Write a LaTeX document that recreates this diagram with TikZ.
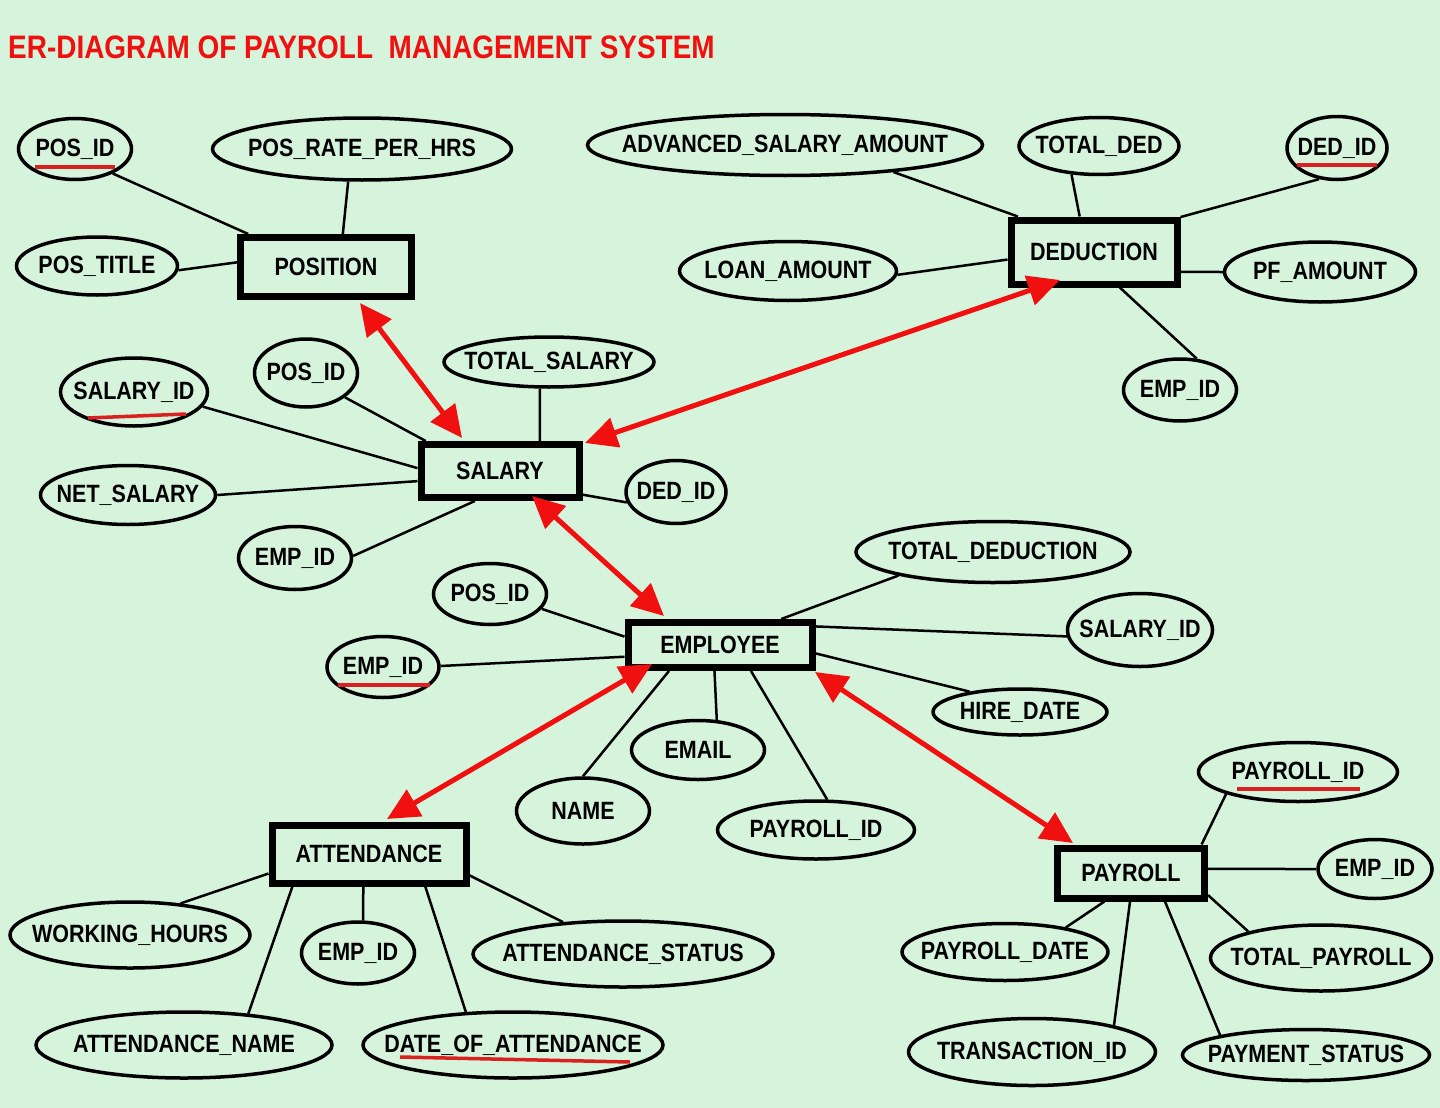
\documentclass[tikz,border=0pt]{standalone}
\usepackage{fontspec}
\setmainfont{Liberation Sans}[FakeStretch=0.86]
\usetikzlibrary{shapes.geometric,arrows.meta,calc}
\definecolor{bg}{RGB}{214,243,220}
\definecolor{relred}{RGB}{240,16,16}
\definecolor{ulred}{RGB}{218,32,32}
\newcommand\lab[1]{\makebox[0pt][c]{#1}}
\begin{document}
\begin{tikzpicture}[x=1pt,y=-1pt,
  lbl/.style={font=\fontsize{25}{25}\selectfont\bfseries},
  entity/.style={lbl,draw=black,line width=7pt,rectangle,inner sep=0pt},
  attr/.style={lbl,draw=black,line width=3.5pt,ellipse,inner sep=0pt},
  link/.style={draw=black,line width=2.5pt},
  rel/.style={draw=relred,line width=5pt,{Triangle[length=32pt,width=30pt]}-{Triangle[length=32pt,width=30pt]}},
  uline/.style={draw=ulred,line width=3.5pt}
]
\fill[bg] (0,0) rectangle (1440,1108);
\useasboundingbox (0,0) rectangle (1440,1108);

\node[anchor=west,inner sep=0pt,text=relred,font=\fontsize{32.5}{33}\selectfont\bfseries] (title) at (8,47) {ER-DIAGRAM OF PAYROLL\ \ MANAGEMENT SYSTEM};

% entities
\node[entity,minimum width=171pt,minimum height=59pt] (position) at (326,267) {POSITION};
\node[entity,minimum width=166pt,minimum height=64pt] (deduction) at (1094,252) {DEDUCTION};
\node[entity,minimum width=158pt,minimum height=53pt] (salary) at (500,471) {SALARY};
\node[entity,minimum width=184pt,minimum height=45pt] (employee) at (720,645) {EMPLOYEE};
\node[entity,minimum width=194pt,minimum height=58pt] (attendance) at (369,854) {ATTENDANCE};
\node[entity,minimum width=147pt,minimum height=50pt] (payroll) at (1131,873) {PAYROLL};

% POSITION attributes
\node[attr,minimum width=113pt,minimum height=61pt] (p1) at (75,149) {\lab{POS\_ID}};
\node[attr,minimum width=299pt,minimum height=62pt] (p2) at (362,149) {\lab{POS\_RATE\_PER\_HRS}};
\node[attr,minimum width=161pt,minimum height=58pt] (p3) at (97,266) {\lab{POS\_TITLE}};

% DEDUCTION attributes
\node[attr,minimum width=395pt,minimum height=61pt] (d1) at (785,145) {\lab{ADVANCED\_SALARY\_AMOUNT}};
\node[attr,minimum width=160pt,minimum height=57pt] (d2) at (1099,146) {\lab{TOTAL\_DED}};
\node[attr,minimum width=100pt,minimum height=63pt] (d3) at (1337,148) {\lab{DED\_ID}};
\node[attr,minimum width=217pt,minimum height=59pt] (d4) at (788,271) {\lab{LOAN\_AMOUNT}};
\node[attr,minimum width=191pt,minimum height=60pt] (d5) at (1320,272) {\lab{PF\_AMOUNT}};
\node[attr,minimum width=113pt,minimum height=62pt] (d6) at (1180,390) {\lab{EMP\_ID}};

% SALARY attributes
\node[attr,minimum width=147pt,minimum height=68pt] (s1) at (134,392) {\lab{SALARY\_ID}};
\node[attr,minimum width=103pt,minimum height=68pt] (s2) at (306,373) {\lab{POS\_ID}};
\node[attr,minimum width=210pt,minimum height=50pt] (s3) at (549,362) {\lab{TOTAL\_SALARY}};
\node[attr,minimum width=175pt,minimum height=59pt] (s4) at (128,495) {\lab{NET\_SALARY}};
\node[attr,minimum width=100pt,minimum height=63pt] (s5) at (676,492) {\lab{DED\_ID}};
\node[attr,minimum width=113pt,minimum height=63pt] (s6) at (295,558) {\lab{EMP\_ID}};

% EMPLOYEE attributes
\node[attr,minimum width=113pt,minimum height=61pt] (e1) at (490,594) {\lab{POS\_ID}};
\node[attr,minimum width=112pt,minimum height=61pt] (e2) at (383,667) {\lab{EMP\_ID}};
\node[attr,minimum width=274pt,minimum height=61pt] (e3) at (993,552) {\lab{TOTAL\_DEDUCTION}};
\node[attr,minimum width=145pt,minimum height=73pt] (e4) at (1140,630) {\lab{SALARY\_ID}};
\node[attr,minimum width=174pt,minimum height=46pt] (e5) at (1020,712) {\lab{HIRE\_DATE}};
\node[attr,minimum width=133pt,minimum height=59pt] (e6) at (698,750) {\lab{EMAIL}};
\node[attr,minimum width=133pt,minimum height=66pt] (e7) at (583,811) {\lab{NAME}};
\node[attr,minimum width=197pt,minimum height=58pt] (e8) at (816,830) {\lab{PAYROLL\_ID}};

% ATTENDANCE attributes
\node[attr,minimum width=240pt,minimum height=66pt] (a1) at (130,935) {\lab{WORKING\_HOURS}};
\node[attr,minimum width=113pt,minimum height=62pt] (a2) at (358,953) {\lab{EMP\_ID}};
\node[attr,minimum width=300pt,minimum height=66pt] (a3) at (623,954) {\lab{ATTENDANCE\_STATUS}};
\node[attr,minimum width=296pt,minimum height=66pt] (a4) at (184,1045) {\lab{ATTENDANCE\_NAME}};
\node[attr,minimum width=300pt,minimum height=66pt] (a5) at (513,1045) {\lab{DATE\_OF\_ATTENDANCE}};

% PAYROLL attributes
\node[attr,minimum width=199pt,minimum height=59pt] (r1) at (1298,772) {\lab{PAYROLL\_ID}};
\node[attr,minimum width=114pt,minimum height=59pt] (r2) at (1375,869) {\lab{EMP\_ID}};
\node[attr,minimum width=206pt,minimum height=57pt] (r3) at (1005,952) {\lab{PAYROLL\_DATE}};
\node[attr,minimum width=221pt,minimum height=66pt] (r4) at (1321,958) {\lab{TOTAL\_PAYROLL}};
\node[attr,minimum width=247pt,minimum height=67pt] (r5) at (1032,1052) {\lab{TRANSACTION\_ID}};
\node[attr,minimum width=247pt,minimum height=51pt] (r6) at (1306,1055) {\lab{PAYMENT\_STATUS}};

% underlines of keys
\draw[uline] ($(p1)+(-40,18)$) -- ($(p1)+(40,18)$);
\draw[uline] ($(d3)+(-40,17)$) -- ($(d3)+(40,17)$);
\draw[uline] ($(s1)+(-46,26)$) -- ($(s1)+(52,22)$);
\draw[uline] ($(e2)+(-45,18)$) -- ($(e2)+(47,18)$);
\draw[uline] ($(r1)+(-61,17)$) -- ($(r1)+(62,17)$);
\draw[uline] ($(a5)+(-113,12)$) -- ($(a5)+(117,17)$);

% attribute links
\draw[link] (p1.-33) -- (position.157);
\draw[link] (p2.-113) -- (position.63);
\draw[link] (p3.-3) -- (position.177);

\draw[link] (d1.-14) -- (deduction.155);
\draw[link] (d2.-134) -- (deduction.112);
\draw[link] (d3.-120) -- (deduction.22);
\draw[link] (d4.-2) -- (deduction.185);
\draw[link] (d5.180) -- (deduction.-13);
\draw[link] (d6.62) -- (deduction.-54);

\draw[link] (s1.-12) -- (salary.178);
\draw[link] (s2.-32) -- (salary.158);
\draw[link] (s3.-109) -- (salary.37);
\draw[link] (s4.0) -- (salary.187);
\draw[link] (s5.192) -- (salary.-16);
\draw[link] (s6.2) -- (salary.-130);

\draw[link] (e1.-16) -- (employee.175);
\draw[link] (e2.1) -- (employee.187);
\draw[link] (e3.194) -- (employee.23);
\draw[link] (e4.185) -- (employee.11);
\draw[link] (e5.158) -- (employee.-5);
\draw[link] (e6.58) -- (employee.-102);
\draw[link] (e7.90) -- (employee.-153);
\draw[link] (e8.70) -- (employee.-40);

\draw[link] (a1.32) -- (attendance.191);
\draw[link] (a2.81) -- (attendance.-100);
\draw[link] (a3.152) -- (attendance.-12);
\draw[link] (a4.26) -- (attendance.-157);
\draw[link] (a5.145) -- (attendance.-30);

\draw[link] (r1.197) -- (payroll.22);
\draw[link] (r2.180) -- (payroll.3);
\draw[link] (r3.22) -- (payroll.-133);
\draw[link] (r4.160) -- (payroll.-16);
\draw[link] (r5.18) -- (payroll.-92);
\draw[link] (r6.167) -- (payroll.-40);

% relationships
\draw[rel] ($(position)+(34,36)$) -- ($(salary)+(-38,-33)$);
\draw[rel] ($(deduction)+(-34,28)$) -- ($(salary)+(85,-28)$);
\draw[rel] ($(salary)+(32,25)$) -- ($(employee)+(-56,-29)$);
\draw[rel] ($(employee)+(-68,19)$) -- ($(attendance)+(18,-35)$);
\draw[rel] ($(employee)+(95,27)$) -- ($(payroll)+(-58,-30)$);
\end{tikzpicture}
\end{document}
